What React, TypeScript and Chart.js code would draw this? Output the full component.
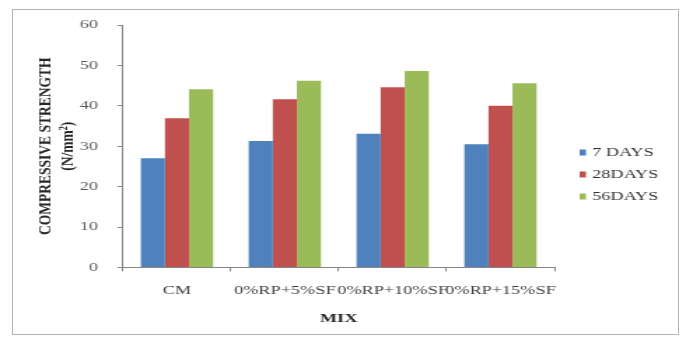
import { useEffect, useRef } from "react";
import { Chart, registerables } from "chart.js";

Chart.register(...registerables);

// Mix designs on the category axis
const mixes = ["CM", "0%RP+5%SF", "0%RP+10%SF", "0%RP+15%SF"];

// Compressive strength (N/mm²) per curing age
const days7 = [27.0, 31.3, 33.1, 30.5];
const days28 = [36.9, 41.6, 44.6, 40.0];
const days56 = [44.1, 46.2, 48.6, 45.6];

const seriesNames = ["7 DAYS", "28DAYS", "56DAYS"];
const seriesColors = ["#4F81BD", "#C0504D", "#9BBB59"];

const yTitle = ["COMPRESSIVE STRENGTH", "(N/mm²)"];
const xTitle = "MIX";

const SERIF = '"Liberation Serif", "Times New Roman", serif';

// Key drawn to the right of the plot, one row per curing age
const sideLegend = {
  id: "sideLegend",
  afterDraw(chart: Chart) {
    const { ctx } = chart;
    ctx.save();
    ctx.font = `13px ${SERIF}`;
    ctx.textBaseline = "middle";
    ctx.textAlign = "left";
    chart.data.datasets.forEach((ds, i) => {
      const y = 152.5 + i * 22;
      ctx.fillStyle = ds.backgroundColor as string;
      ctx.fillRect(414, y - 3, 4.5, 6);
      ctx.fillStyle = "#333333";
      ctx.fillText(ds.label as string, 423, y);
    });
    ctx.restore();
  },
};

export default function App() {
  const canvasRef = useRef<HTMLCanvasElement | null>(null);

  useEffect(() => {
    if (!canvasRef.current) return;
    const values = [days7, days28, days56];
    const chart = new Chart(canvasRef.current, {
      type: "bar",
      data: {
        labels: mixes,
        datasets: seriesNames.map((name, i) => ({
          label: name,
          data: values[i],
          backgroundColor: seriesColors[i],
          borderWidth: 0,
          barPercentage: 1,
          categoryPercentage: 0.67,
        })),
      },
      options: {
        responsive: true,
        maintainAspectRatio: false,
        animation: false,
        layout: { padding: { left: 20, right: 94, top: 25, bottom: 8 } },
        plugins: {
          legend: { display: false },
          tooltip: { enabled: false },
        },
        scales: {
          x: {
            grid: {
              display: true,
              drawOnChartArea: false,
              tickLength: 4,
              color: "#868686",
              offset: true,
            },
            border: { color: "#868686" },
            ticks: {
              autoSkip: false,
              maxRotation: 0,
              minRotation: 0,
              padding: 11.7,
              color: "#404040",
              font: { family: SERIF, size: 13 },
            },
            title: {
              display: true,
              text: xTitle,
              color: "#262626",
              font: { family: SERIF, size: 13, weight: "bold" },
              padding: { top: 0, bottom: 4 },
            },
          },
          y: {
            min: 0,
            max: 60,
            grid: {
              display: true,
              drawOnChartArea: false,
              tickLength: 4,
              color: "#868686",
            },
            border: { color: "#868686" },
            ticks: {
              stepSize: 10,
              padding: 14,
              color: "#595959",
              font: { family: SERIF, size: 13 },
            },
            title: {
              display: true,
              text: yTitle,
              color: "#262626",
              font: { family: SERIF, size: 13.5, weight: "bold" },
              padding: { top: 4, bottom: -13.5 },
            },
          },
        },
      },
      plugins: [sideLegend],
    });
    return () => chart.destroy();
  }, []);

  return (
    <div
      style={{
        position: "fixed",
        left: 0,
        top: 0,
        width: 686,
        height: 338,
        background: "#ffffff",
        overflow: "hidden",
      }}
    >
      <div
        style={{
          position: "absolute",
          left: 12,
          top: 9,
          width: 667,
          height: 326,
          border: "1px solid #b4b4b4",
          boxSizing: "border-box",
        }}
      />
      <div
        style={{
          position: "absolute",
          left: 0,
          top: 0,
          width: 490,
          height: 338,
          transform: "scaleX(1.4)",
          transformOrigin: "left top",
        }}
      >
        <canvas ref={canvasRef} />
      </div>
    </div>
  );
}
